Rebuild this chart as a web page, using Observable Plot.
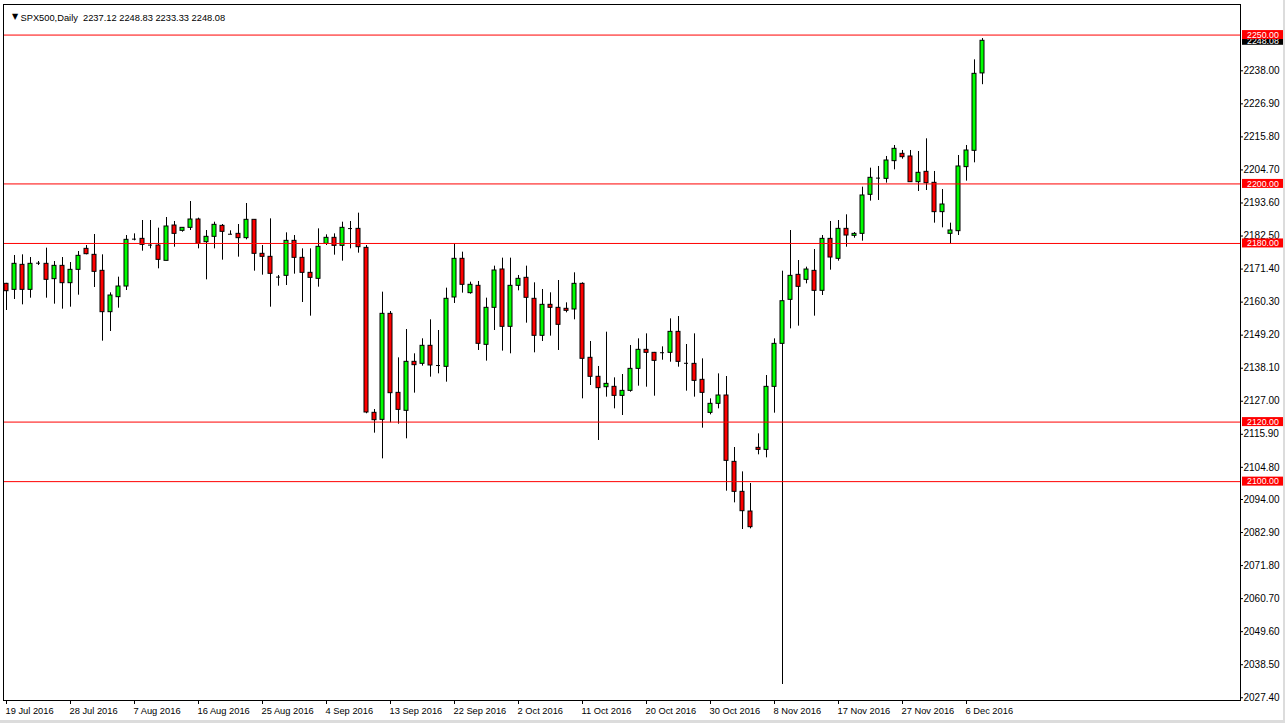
<!DOCTYPE html>
<html><head><meta charset="utf-8">
<script src="https://cdn.jsdelivr.net/npm/d3@7"></script>
<script src="https://cdn.jsdelivr.net/npm/@observablehq/plot@0.6"></script>
<style>
html,body{margin:0;padding:0;background:#fff;overflow:hidden;}
#wrap{width:1283px;height:720px;border-right:2px solid #dcdcdc;border-bottom:3px solid #dcdcdc;}
#wrap svg{display:block;}
</style></head><body><div id="wrap"></div>
<script>
const symbol = "SPX500,Daily";

const opens = [2166.44,2164.42,2172.82,2164.42,2173.38,2173.16,2168.01,2172.48,2166.66,2171.14,
2178.19,2176.18,2170.81,2156.92,2161.96,2165.54,2181.45,2181.55,2179.45,2179.31,
2174.16,2186.03,2184.24,2185.25,2188.05,2180.43,2182.23,2185.92,2183.10,2183.23,
2181.78,2187.94,2176.52,2175.51,2168.70,2169.13,2180.88,2175.17,2170.13,2168.12,
2179.87,2181.89,2179.20,2185.00,2184.91,2178.53,2123.11,2120.75,2156.36,2129.82,
2123.78,2140.24,2139.57,2145.62,2139.00,2138.56,2161.85,2174.84,2163.31,2165.77,
2145.95,2158.38,2171.26,2152.00,2165.77,2168.46,2161.41,2148.98,2159.39,2158.38,
2158.05,2157.82,2166.44,2141.59,2135.21,2131.72,2131.84,2128.81,2130.49,2137.88,
2144.27,2143.26,2143.30,2143.26,2150.31,2139.75,2139.56,2134.19,2123.10,2126.13,
2128.93,2106.64,2096.57,2089.96,2111.35,2110.67,2131.84,2146.28,2161.06,2169.46,
2167.78,2170.80,2164.09,2181.55,2174.84,2184.91,2182.56,2183.23,2196.34,2201.95,
2201.71,2207.65,2210.11,2209.22,2200.59,2204.06,2200.37,2190.52,2183.24,2184.13,
2205.64,2211.12,2237.12];
const highs = [2166.60,2175.96,2176.18,2175.28,2173.94,2178.42,2173.94,2175.28,2173.60,2177.30,
2179.31,2183.01,2176.18,2163.41,2168.68,2182.67,2183.23,2187.71,2187.71,2185.14,
2188.72,2187.38,2185.25,2194.09,2188.50,2184.35,2187.15,2186.37,2184.24,2186.37,
2193.42,2187.94,2179.31,2188.27,2169.24,2183.57,2182.67,2178.19,2178.19,2184.91,
2182.90,2183.23,2187.15,2187.38,2190.18,2179.31,2124.22,2163.64,2157.14,2141.58,
2151.10,2142.93,2147.97,2154.35,2150.77,2164.99,2179.88,2177.08,2167.00,2167.23,
2161.63,2172.38,2175.07,2175.07,2169.24,2172.38,2166.78,2164.54,2163.42,2167.56,
2160.06,2170.14,2166.78,2147.07,2138.68,2150.20,2134.86,2135.98,2145.72,2147.96,
2149.64,2143.40,2145.27,2154.68,2155.46,2146.06,2149.64,2141.24,2127.81,2136.20,
2135.31,2111.46,2103.28,2099.37,2116.05,2135.64,2147.96,2170.69,2184.35,2174.27,
2172.04,2177.97,2182.67,2187.38,2187.71,2189.62,2183.68,2198.91,2205.30,2205.86,
2209.22,2212.91,2211.23,2211.23,2210.89,2215.15,2204.18,2198.13,2186.82,2209.55,
2212.91,2241.69,2248.83];
const lows = [2157.48,2161.18,2159.38,2161.62,2172.60,2161.62,2159.61,2157.93,2158.60,2162.63,
2176.18,2165.21,2147.18,2150.43,2158.26,2164.20,2180.88,2177.41,2178.19,2171.48,
2174.16,2178.75,2183.79,2184.35,2178.19,2167.78,2178.19,2174.39,2182.90,2175.40,
2181.22,2170.69,2169.35,2158.60,2165.65,2165.88,2169.69,2160.17,2155.58,2165.32,
2179.31,2176.07,2174.05,2178.19,2176.74,2122.80,2116.28,2107.65,2119.75,2119.30,
2114.38,2129.72,2138.79,2135.09,2136.21,2133.41,2159.84,2163.31,2162.97,2144.05,
2140.47,2150.77,2143.83,2142.93,2164.09,2153.23,2143.27,2147.07,2148.87,2144.05,
2156.70,2154.35,2127.81,2132.29,2113.82,2128.37,2124.45,2122.21,2130.04,2132.06,
2131.72,2128.70,2140.79,2140.12,2138.44,2130.38,2128.37,2117.95,2122.43,2124.45,
2096.79,2092.87,2083.91,2084.13,2109.00,2107.99,2122.99,2031.85,2151.32,2152.22,
2166.44,2155.58,2162.52,2171.03,2174.05,2178.75,2181.78,2180.77,2194.21,2194.44,
2200.26,2204.74,2208.32,2200.59,2197.46,2197.79,2186.82,2185.25,2179.88,2182.68,
2200.93,2207.09,2233.33];
const closes = [2163.97,2173.16,2164.42,2173.16,2173.38,2167.78,2172.48,2166.66,2171.14,2175.84,
2176.40,2170.47,2156.92,2162.52,2165.54,2181.22,2181.45,2179.54,2179.45,2174.50,
2185.70,2183.23,2185.25,2188.05,2179.87,2182.23,2186.26,2183.91,2183.10,2181.78,
2187.94,2176.52,2175.51,2169.80,2168.70,2180.88,2175.17,2170.13,2168.45,2178.87,
2181.89,2179.20,2185.25,2185.00,2178.75,2123.22,2120.64,2156.36,2129.71,2124.11,
2140.24,2139.12,2145.62,2139.01,2139.00,2161.41,2174.84,2166.11,2166.11,2146.29,
2158.38,2170.92,2152.00,2165.77,2168.12,2161.74,2148.98,2159.39,2158.38,2152.67,
2157.37,2166.44,2141.25,2135.21,2131.40,2132.84,2128.81,2130.49,2137.88,2144.27,
2143.26,2140.57,2143.30,2150.31,2140.23,2139.75,2133.85,2129.82,2126.13,2128.93,
2106.98,2096.57,2090.07,2084.70,2110.67,2131.84,2146.28,2160.61,2169.12,2165.43,
2171.25,2164.09,2181.55,2175.28,2184.91,2182.67,2183.23,2196.12,2202.05,2201.95,
2207.87,2211.79,2208.99,2200.59,2203.73,2200.26,2190.52,2193.09,2184.36,2205.86,
2211.23,2236.98,2248.08];

const dateTickIndex = [0,8,16,24,32,40,48,56,64,72,80,88,96,104,112,120];
const dateTickLabels = ["19 Jul 2016","28 Jul 2016","7 Aug 2016","16 Aug 2016","25 Aug 2016",
"4 Sep 2016","13 Sep 2016","22 Sep 2016","2 Oct 2016","11 Oct 2016","20 Oct 2016",
"30 Oct 2016","8 Nov 2016","17 Nov 2016","27 Nov 2016","6 Dec 2016"];

const priceTicks = [2238.00,2226.90,2215.80,2204.70,2193.60,2182.50,2171.40,2160.30,2149.20,2138.10,
2127.00,2115.90,2104.80,2094.00,2082.90,2071.80,2060.70,2049.60,2038.50,2027.40];

const levels = [2250, 2200, 2180, 2120, 2100];

// layout
const W = 1283, H = 720, mL = 3, mR = 43, mT = 4, mB = 20;
const frameW = W - mL - mR, frameH = H - mT - mB;
const xDomain = [-0.375, 154.25];
const yDomain = [2026.48, 2260.27];
const bodyHalf = 0.25;

const bars = opens.map((o, i) => ({i, open: o, high: highs[i], low: lows[i], close: closes[i]}));
const ups = bars.filter(d => d.close > d.open);
const downs = bars.filter(d => d.close < d.open);
const dojis = bars.filter(d => d.close === d.open);
const last = bars[bars.length - 1];
const dateTicks = dateTickIndex.map((i, k) => ({i, label: dateTickLabels[k]}));
const header = `${symbol}\u00a0\u00a0${last.open.toFixed(2)} ${last.high.toFixed(2)} ${last.low.toFixed(2)} ${last.close.toFixed(2)}`;

const boxOpts = {y1: d => d, y2: d => d, insetTop: -4.5, insetBottom: -4.5, insetLeft: frameW + 2, insetRight: -mR};

const chart = Plot.plot({
  width: W, height: H,
  marginLeft: mL, marginRight: mR, marginTop: mT, marginBottom: mB,
  style: {fontFamily: "'Liberation Sans', Arial, sans-serif", fontSize: "10px", background: "#fff", color: "#000"},
  x: {domain: xDomain, axis: null},
  y: {domain: yDomain, axis: "right", ticks: priceTicks, tickFormat: d => d.toFixed(2), tickSize: 2, tickPadding: 1, label: null},
  marks: [
    Plot.ruleX(bars, {x: "i", y1: "low", y2: "high", stroke: "#000", strokeWidth: 1}),
    Plot.rect(ups, {x1: d => d.i - bodyHalf, x2: d => d.i + bodyHalf, y1: "open", y2: "close", fill: "#00ff00", stroke: "#000"}),
    Plot.rect(downs, {x1: d => d.i - bodyHalf, x2: d => d.i + bodyHalf, y1: "open", y2: "close", fill: "#ff0000", stroke: "#000"}),
    Plot.ruleY(dojis, {y: "close", x1: d => d.i - bodyHalf, x2: d => d.i + bodyHalf, stroke: "#000"}),
    Plot.ruleY(levels, {stroke: "#ff0000"}),
    Plot.frame({stroke: "#000"}),
    Plot.ruleX(dateTicks, {x: "i", insetTop: frameH, insetBottom: -4, stroke: "#000"}),
    Plot.text(dateTicks, {x: "i", text: "label", frameAnchor: "bottom", dy: 13, dx: -1, textAnchor: "start", fontSize: 9.3, fill: "#000"}),
    Plot.rect([last.close], {...boxOpts, fill: "#000"}),
    Plot.text([last.close], {y: d => d, text: d => d.toFixed(2), frameAnchor: "right", dx: 6.5, textAnchor: "start", fontSize: 8.8, fill: "#fff"}),
    Plot.rect(levels, {...boxOpts, fill: "#ff0000"}),
    Plot.text(levels, {y: d => d, text: d => d.toFixed(2), frameAnchor: "right", dx: 6.5, textAnchor: "start", fontSize: 8.8, fill: "#fff"}),
    Plot.text(["\u25BC"], {frameAnchor: "top-left", dx: 8.5, dy: 9, fontSize: 8, fontFamily: "DejaVu Sans", fill: "#000"}),
    Plot.text([header], {frameAnchor: "top-left", dx: 17, dy: 9.5, textAnchor: "start", fontSize: 9.3, fill: "#000", text: d => d})
  ]
});
document.getElementById("wrap").appendChild(chart);
</script>
</body></html>
